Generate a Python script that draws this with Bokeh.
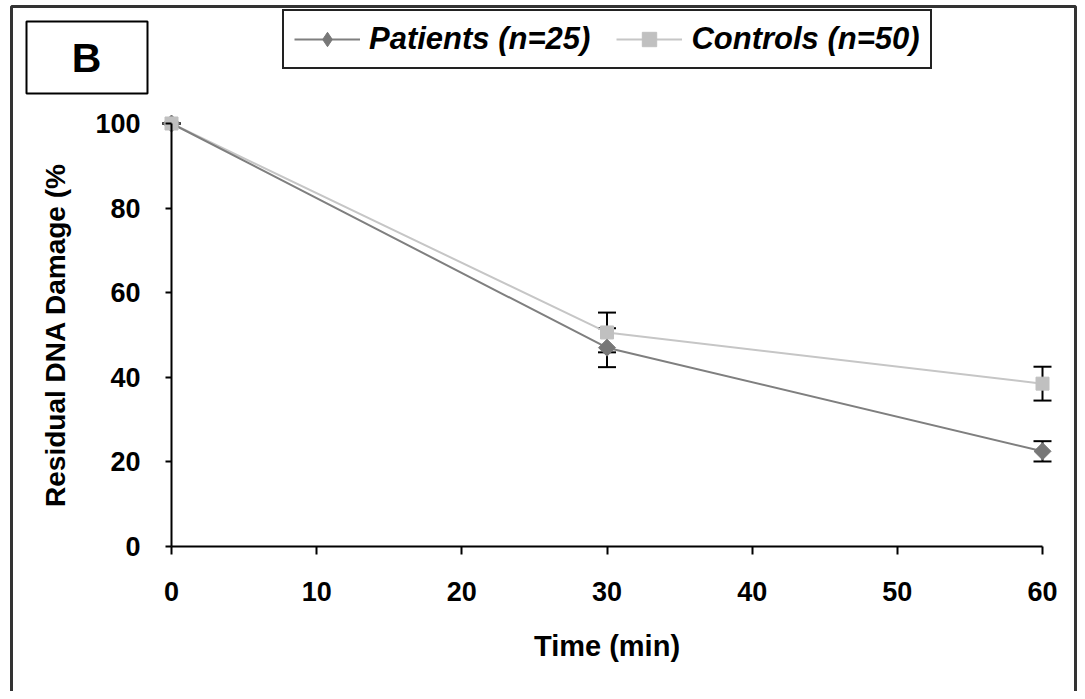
from bokeh.plotting import figure
from bokeh.models import (ColumnDataSource, Whisker, TeeHead, FixedTicker, Legend,
                          LegendItem, BoxAnnotation, Label, Range1d)
from bokeh.embed import file_html
from bokeh.resources import INLINE

# ---- data ----
time_min = [0, 30, 60]
patients = [100, 47.0, 22.5]
patients_err = [0, 4.6, 2.4]
controls = [100, 50.6, 38.5]
controls_err = [0, 4.7, 4.0]
x_ticks = [0, 10, 20, 30, 40, 50, 60]
y_ticks = [0, 20, 40, 60, 80, 100]
series_labels = ["Patients (n=25)", "Controls (n=50)"]
panel_letter = "B"
x_title = "Time (min)"
y_title = "Residual DNA Damage (%"

FONT = "Liberation Sans"
W, H = 1077, 691

p = figure(width=W, height=H,
           x_range=Range1d(-11.780, 62.411), y_range=Range1d(-34.279, 129.078),
           output_backend="svg", toolbar_location=None,
           min_border_left=0, min_border_right=0,
           min_border_top=0, min_border_bottom=0)
p.outline_line_color = None
p.xgrid.visible = False
p.ygrid.visible = False
p.background_fill_color = "white"
p.border_fill_color = "white"

src_p = ColumnDataSource(dict(x=time_min, y=patients,
                              lo=[a - b for a, b in zip(patients, patients_err)],
                              hi=[a + b for a, b in zip(patients, patients_err)]))
src_c = ColumnDataSource(dict(x=time_min, y=controls,
                              lo=[a - b for a, b in zip(controls, controls_err)],
                              hi=[a + b for a, b in zip(controls, controls_err)]))

for src in (src_p, src_c):
    w = Whisker(source=src, base="x", lower="lo", upper="hi", dimension="height",
                line_color="black", line_width=2, level="underlay",
                upper_head=TeeHead(size=18, line_color="black", line_width=2),
                lower_head=TeeHead(size=18, line_color="black", line_width=2))
    p.add_layout(w)

lc = p.line("x", "y", source=src_c, line_color="#c6c6c6", line_width=2)
lp = p.line("x", "y", source=src_p, line_color="#7f7f7f", line_width=2)
# diamond used by the legend (hidden under the rotated square in the plot)
sd = p.scatter("x", "y", source=src_p, marker="diamond", size=16,
               fill_color="#777777", line_color="#777777")
sp = p.scatter("x", "y", source=src_p, marker="square", angle=0.7854, size=12,
               fill_color="#777777", line_color="#777777")
sc = p.scatter("x", "y", source=src_c, marker="square", size=13,
               fill_color="#c0c0c0", line_color="#c0c0c0")

# axes
for ax, ticks, bnds in ((p.xaxis[0], x_ticks, (0, 60)), (p.yaxis[0], y_ticks, (0, 100))):
    ax.ticker = FixedTicker(ticks=ticks)
    ax.bounds = bnds
    ax.fixed_location = 0
    ax.axis_line_color = "black"
    ax.axis_line_width = 2
    ax.major_tick_line_color = "black"
    ax.major_tick_line_width = 2
    ax.major_tick_in = 0
    ax.minor_tick_line_color = None
    ax.major_label_text_font = FONT
    ax.major_label_text_font_style = "bold"
    ax.major_label_text_font_size = "27px"
    ax.major_label_text_color = "black"
    ax.axis_label_text_font = FONT
    ax.axis_label_text_font_style = "bold"
    ax.axis_label_text_color = "black"

p.xaxis.major_tick_out = 8
p.xaxis.major_label_standoff = 28
p.xaxis.axis_label = x_title
p.xaxis.axis_label_text_font_size = "29px"
p.xaxis.axis_label_standoff = 25

p.yaxis.major_tick_out = 6
p.yaxis.major_label_standoff = 25
p.yaxis.axis_label = y_title
p.yaxis.axis_label_text_font_size = "28px"
p.yaxis.axis_label_standoff = 21

legend = Legend(items=[LegendItem(label=series_labels[0], renderers=[lp, sd]),
                       LegendItem(label=series_labels[1], renderers=[lc, sc])],
                orientation="horizontal", location=(282, H - 69),
                glyph_width=66, glyph_height=36, label_standoff=9, spacing=26,
                padding=10, margin=0, border_line_color="#222222", border_line_alpha=1,
                border_line_width=2,
                label_text_font=FONT, label_text_font_size="31px",
                label_text_font_style="bold italic", label_text_color="black",
                background_fill_color="white", background_fill_alpha=1)
p.add_layout(legend)

# panel letter box and outer frame
p.add_layout(BoxAnnotation(left=26, right=147, top=21, bottom=93,
                           left_units="canvas", right_units="canvas",
                           top_units="canvas", bottom_units="canvas",
                           fill_alpha=0, line_color="black", line_alpha=1, line_width=2))
p.add_layout(Label(x=86, y=57, x_units="canvas", y_units="canvas", text=panel_letter,
                   text_align="center", text_baseline="middle",
                   text_font=FONT, text_font_size="41px", text_font_style="bold",
                   text_color="black"))
p.add_layout(BoxAnnotation(left=11, right=1075, top=6, bottom=720,
                           left_units="canvas", right_units="canvas",
                           top_units="canvas", bottom_units="canvas",
                           fill_alpha=0, line_color="#333333", line_alpha=1, line_width=3))

open("out.html", "w").write(file_html(p, INLINE))
